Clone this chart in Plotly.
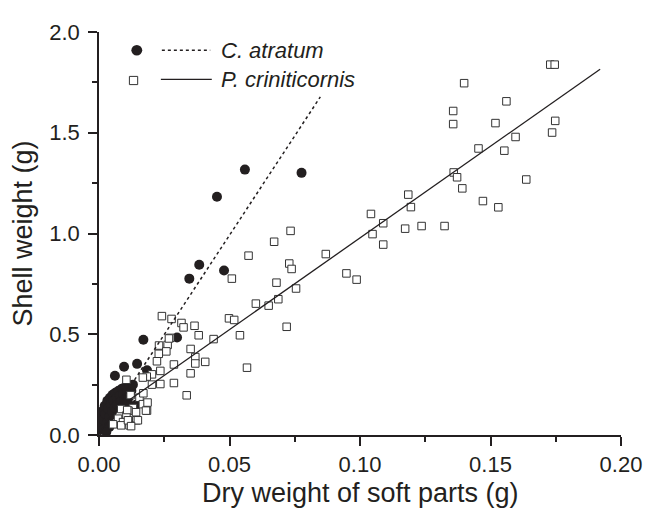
import plotly.graph_objects as go

# ---------------- data ----------------
ca_x = [0.0559, 0.0776, 0.0452, 0.0384, 0.0346, 0.0479, 0.0299, 0.0170, 0.0096, 0.0146,
        0.0061, 0.0184, 0.0142,
        0.0006, 0.0006, 0.0008, 0.0012, 0.0014, 0.0018, 0.0020, 0.0022, 0.0025, 0.0030,
        0.0032, 0.0035, 0.0040, 0.0042, 0.0045, 0.0050, 0.0052, 0.0056, 0.0060, 0.0063,
        0.0068, 0.0070, 0.0075, 0.0080, 0.0084, 0.0088, 0.0093, 0.0098, 0.0102, 0.0108,
        0.0113, 0.0118, 0.0124, 0.0130, 0.0110, 0.0040, 0.0028]
ca_y = [1.317, 1.301, 1.182, 0.845, 0.776, 0.816, 0.484, 0.473, 0.339, 0.353,
        0.294, 0.321, 0.150,
        0.025, 0.060, 0.095, 0.045, 0.120, 0.075, 0.030, 0.145, 0.105, 0.060,
        0.170, 0.130, 0.090, 0.185, 0.150, 0.115, 0.200, 0.170, 0.135, 0.210,
        0.185, 0.150, 0.220, 0.195, 0.165, 0.230, 0.205, 0.175, 0.240, 0.215,
        0.185, 0.245, 0.220, 0.250, 0.160, 0.040, 0.015]

pc_x = [0.1729, 0.1746, 0.1399, 0.1561, 0.1357, 0.1357, 0.1519, 0.1748, 0.1596, 0.1736,
        0.1454, 0.1553, 0.1359, 0.1372, 0.1637, 0.1392, 0.1185, 0.1471, 0.1530, 0.1195,
        0.1042, 0.1089, 0.1048, 0.1089, 0.1173, 0.1236, 0.1324, 0.0869, 0.0948, 0.0987,
        0.0755,
        0.0734, 0.0671, 0.0573, 0.0729, 0.0738, 0.0509, 0.0680, 0.0601, 0.0650, 0.0687,
        0.0719, 0.0498, 0.0518, 0.0540, 0.0241, 0.0278, 0.0316, 0.0324, 0.0366, 0.0382,
        0.0439, 0.0273, 0.0567,
        0.0230, 0.0263, 0.0268, 0.0229, 0.0258, 0.0222, 0.0287, 0.0351, 0.0369, 0.0369,
        0.0407, 0.0351, 0.0287, 0.0235, 0.0203, 0.0235, 0.0336, 0.0203, 0.0183, 0.0168,
        0.0105, 0.0155, 0.0168, 0.0184, 0.0130, 0.0113, 0.0085, 0.0073, 0.0105, 0.0143,
        0.0092, 0.0054, 0.0085, 0.0117, 0.0170, 0.0186, 0.0180, 0.0121, 0.0108, 0.0142,
        0.0149, 0.0111, 0.0123]
pc_y = [1.838, 1.838, 1.746, 1.656, 1.608, 1.543, 1.548, 1.559, 1.479, 1.501,
        1.422, 1.411, 1.303, 1.279, 1.268, 1.224, 1.193, 1.161, 1.130, 1.131,
        1.097, 1.051, 0.997, 0.945, 1.024, 1.037, 1.037, 0.898, 0.802, 0.771,
        0.727,
        1.013, 0.959, 0.890, 0.851, 0.824, 0.776, 0.756, 0.652, 0.642, 0.674,
        0.537, 0.579, 0.571, 0.495, 0.590, 0.576, 0.556, 0.534, 0.542, 0.495,
        0.476, 0.482, 0.334,
        0.444, 0.447, 0.479, 0.403, 0.415, 0.366, 0.350, 0.427, 0.387, 0.355,
        0.363, 0.306, 0.258, 0.318, 0.301, 0.253, 0.197, 0.250, 0.290, 0.285,
        0.274, 0.185, 0.153, 0.121, 0.134, 0.121, 0.129, 0.081, 0.097, 0.073,
        0.064, 0.053, 0.048, 0.048, 0.207, 0.161, 0.121, 0.198, 0.124, 0.113,
        0.073, 0.073, 0.044]

# regression lines (end points)
ca_fit_x = [0.001, 0.0848]
ca_fit_y = [0.025, 1.678]
pc_fit_x = [0.0105, 0.192]
pc_fit_y = [0.164, 1.815]

series_names = ["C. atratum", "P. criniticornis"]
x_ticks = [0.00, 0.05, 0.10, 0.15, 0.20]
y_ticks = [0.0, 0.5, 1.0, 1.5, 2.0]
x_title = "Dry weight of soft parts (g)"
y_title = "Shell weight (g)"

# ---------------- figure ----------------
# the page body has an 8px margin, so the figure starts at (8, 8) on screen
OFF = 8
W, H = 654 - OFF, 516 - OFF
PL, PR, PT, PB = 99, 628, 22, 435          # plot area in screen pixels
ML, MR, MT, MB = PL - OFF, W - (PR - OFF), PT - OFF, H - (PB - OFF)
PW, PH = PR - PL, PB - PT
INK = "#231f20"
FONT = "Liberation Sans, Arial, Helvetica, sans-serif"


def px(x):
    return (x - PL) / PW


def py(y):
    return (PB - y) / PH


fig = go.Figure()
fig.add_trace(go.Scatter(x=ca_x, y=ca_y, mode="markers", name=series_names[0],
                         marker=dict(symbol="circle", size=10, color=INK,
                                     line=dict(width=0)),
                         showlegend=False))
fig.add_trace(go.Scatter(x=pc_x, y=pc_y, mode="markers", name=series_names[1],
                         marker=dict(symbol="square", size=7.5, color="white",
                                     line=dict(width=1, color="#333333")),
                         showlegend=False))
fig.add_trace(go.Scatter(x=ca_fit_x, y=ca_fit_y, mode="lines",
                         line=dict(color=INK, width=1.5, dash="dot"),
                         showlegend=False))
fig.add_trace(go.Scatter(x=pc_fit_x, y=pc_fit_y, mode="lines",
                         line=dict(color=INK, width=1.3),
                         showlegend=False))

axis_common = dict(
    showline=True, linecolor=INK, linewidth=1.5, mirror=False,
    showgrid=False, zeroline=False,
    ticks="outside", ticklen=9, tickwidth=1.5, tickcolor=INK,
    tickfont=dict(family=FONT, size=22, color=INK),
)

fig.update_xaxes(range=[0, 0.2], tickvals=x_ticks,
                 ticktext=[f"{v:.2f}" for v in x_ticks],
                 minor=dict(ticks="outside", ticklen=5, tickwidth=1.5,
                            tickcolor=INK, dtick=0.025, tick0=0),
                 **axis_common)
fig.update_yaxes(range=[0, 2.0], tickvals=y_ticks,
                 ticktext=[f"{v:.1f}" for v in y_ticks],
                 ticklabelstandoff=4,
                 minor=dict(ticks="outside", ticklen=5, tickwidth=1.5,
                            tickcolor=INK, dtick=0.25, tick0=0),
                 **axis_common)

# manual legend (marker and line side by side, as in the original)
shapes = [
    dict(type="circle", xref="paper", yref="paper",
         x0=px(131.8), x1=px(142.8), y0=py(46.2), y1=py(35.2),
         fillcolor=INK, line=dict(width=0)),
    dict(type="line", xref="paper", yref="paper",
         x0=px(162.7), x1=px(211.7), y0=py(40.7), y1=py(40.7),
         line=dict(color=INK, width=1.5, dash="dot")),
    dict(type="rect", xref="paper", yref="paper",
         x0=px(129.8), x1=px(138.2), y0=py(75.9), y1=py(67.5),
         fillcolor="white", line=dict(color="#333333", width=1)),
    dict(type="line", xref="paper", yref="paper",
         x0=px(161.7), x1=px(213.3), y0=py(70.5), y1=py(70.5),
         line=dict(color=INK, width=1.3)),
]
annotations = [
    dict(text="<i>" + series_names[0] + "</i>", xref="paper", yref="paper",
         x=px(221), y=py(40.7), xanchor="left", yanchor="middle", showarrow=False,
         font=dict(family=FONT, size=22, color=INK)),
    dict(text="<i>" + series_names[1] + "</i>", xref="paper", yref="paper",
         x=px(221), y=py(70.5), xanchor="left", yanchor="middle", showarrow=False,
         font=dict(family=FONT, size=22, color=INK)),
    dict(text=x_title, xref="paper", yref="paper",
         x=0.5, y=py(494), xanchor="center", yanchor="middle", showarrow=False,
         font=dict(family=FONT, size=27, color=INK)),
    dict(text=y_title, xref="paper", yref="paper", textangle=-90,
         x=px(21), y=0.5, xanchor="center", yanchor="middle", showarrow=False,
         font=dict(family=FONT, size=27, color=INK)),
]

fig.update_layout(
    width=W, height=H,
    margin=dict(l=ML, r=MR, t=MT, b=MB, pad=0),
    paper_bgcolor="white", plot_bgcolor="white",
    shapes=shapes, annotations=annotations,
    font=dict(family=FONT, color=INK),
    showlegend=False,
)

fig.write_html("out.html")
